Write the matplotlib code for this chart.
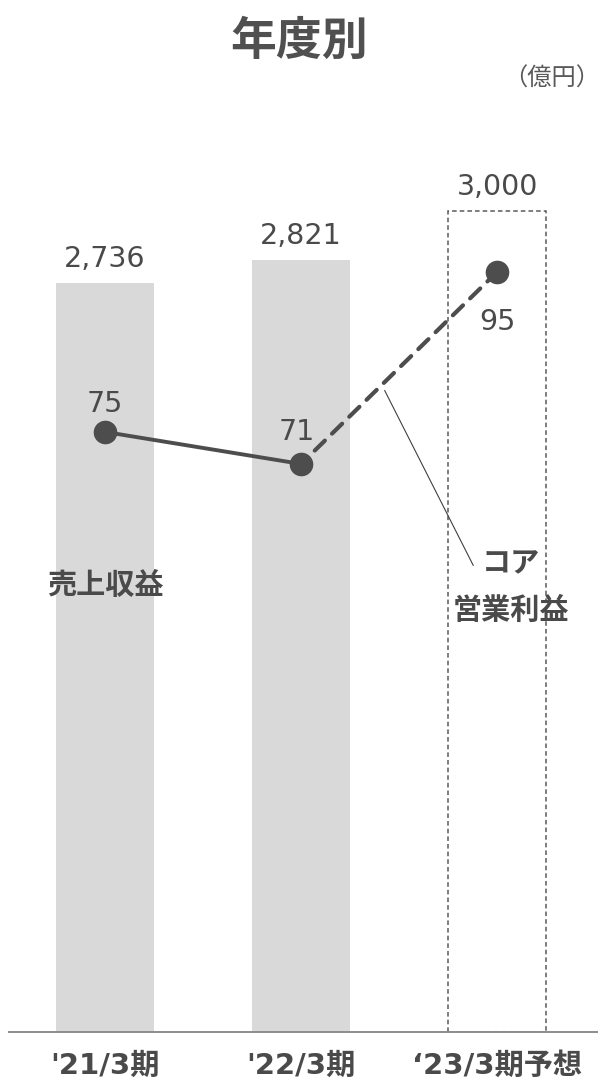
import matplotlib as mpl
import matplotlib.pyplot as plt

mpl.rcParams['font.family'] = ['DejaVu Sans', 'Noto Sans CJK JP']

# 億円
periods = ["'21/3期", "'22/3期", "\u201823/3期予想"]
revenue = [2736, 2821, 3000]
core_profit = [75, 71, 95]
revenue_labels = ['2,736', '2,821', '3,000']
profit_labels = ['75', '71', '95']

bar_color = '#d9d9d9'
line_color = '#4d4d4d'
text_color = '#4a4a4a'

fig = plt.figure(figsize=(5.98, 10.91), dpi=100)
ax = fig.add_axes([0.01505, 0.0541, 0.985, 0.8543])
ax2 = ax.twinx()

x = list(range(len(periods)))

# actual years filled, forecast as dashed outline
ax.bar(x[:2], revenue[:2], width=0.5, color=bar_color, zorder=1)
ax.bar(x[2:], revenue[2:], width=0.5, fill=False, edgecolor='#5a5a5a',
       linestyle=(0, (3, 2)), linewidth=1.1, zorder=1)

for xi, v, s in zip(x, revenue, revenue_labels):
    ax.annotate(s, (xi, v), xytext=(0, 7), textcoords='offset points',
                ha='center', va='bottom', fontsize=20.5, color=text_color)

ax.set_xlim(-0.49, 2.515)
ax.set_ylim(0, 3404)
ax.set_yticks([])
ax.set_xticks(x)
ax.set_xticklabels(periods, fontsize=21, fontweight='bold', color=text_color)
ax.tick_params(axis='x', length=0, pad=14)
for side in ['top', 'left', 'right']:
    ax.spines[side].set_visible(False)
ax.spines['bottom'].set_color('#8c8c8c')
ax.spines['bottom'].set_linewidth(1.4)

# core operating profit on the secondary scale
ax2.set_ylim(0, 116.5)
ax2.plot(x[:2], core_profit[:2], color=line_color, lw=2.8,
         marker='o', markersize=16, zorder=3)
ax2.plot(x[1:], core_profit[1:], color=line_color, lw=3.0,
         linestyle=(1.2, (3.4, 2.4)), dash_capstyle='round', zorder=3)
ax2.plot(x[2], core_profit[2], color=line_color, marker='o',
         markersize=16, zorder=3)
ax2.set_yticks([])
for side in ax2.spines:
    ax2.spines[side].set_visible(False)

offsets = [(0, 10), (-3, 13), (0, -46)]
for xi, v, s, off in zip(x, core_profit, profit_labels, offsets):
    ax2.annotate(s, (xi, v), xytext=off, textcoords='offset points',
                 ha='center', va='bottom', fontsize=20.5, color=text_color)

ax2.annotate('', xy=(1.42, 80.5), xytext=(1.885, 58.0),
             arrowprops=dict(arrowstyle='-', color='#404040', lw=0.8))

fig.text(0.176, 0.4635, '売上収益', ha='center', va='center', fontsize=21,
         fontweight='bold', color=text_color, family='Noto Sans CJK JP')
fig.text(0.855, 0.484, 'コア', ha='center', va='center', fontsize=21,
         fontweight='bold', color=text_color, family='Noto Sans CJK JP')
fig.text(0.855, 0.441, '営業利益', ha='center', va='center', fontsize=21,
         fontweight='bold', color=text_color, family='Noto Sans CJK JP')

fig.text(0.50, 0.962, '年度別', ha='center', va='center', fontsize=33,
         fontweight='bold', color='#505050', family='Noto Sans CJK JP')
fig.text(0.922, 0.928, '（億円）', ha='center', va='center', fontsize=17.5,
         color='#595959', family='Noto Sans CJK JP')

fig.savefig('out.png', dpi=100)
